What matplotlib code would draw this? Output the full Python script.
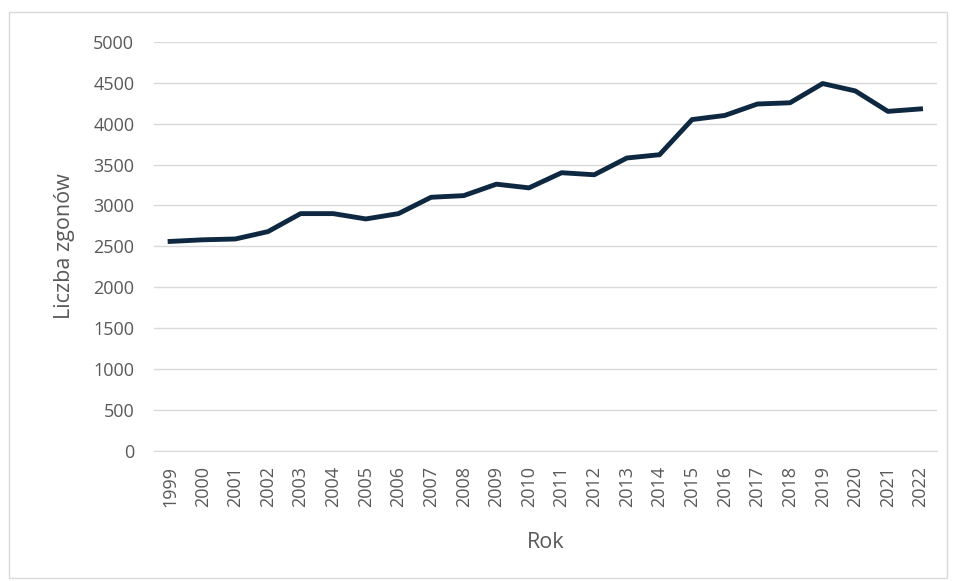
import matplotlib.pyplot as plt
from matplotlib.patches import Rectangle

years = [str(y) for y in range(1999, 2023)]
deaths = [2560, 2580, 2590, 2680, 2900, 2900, 2835, 2900, 3100, 3120, 3260, 3215,
          3400, 3375, 3580, 3620, 4050, 4100, 4240, 4255, 4490, 4400, 4150, 4180]

plt.rcParams["font.family"] = ["Open Sans", "DejaVu Sans"]
text_color = "#595959"
grid_color = "#d9d9d9"

fig = plt.figure(figsize=(9.55, 5.81), dpi=100)
fig.patches.append(Rectangle((0.009, 0.005), 0.983, 0.975, transform=fig.transFigure,
                             fill=False, edgecolor="#d9d9d9", linewidth=1))
ax = fig.add_axes([0.161, 0.224, 0.820, 0.704])

x = range(len(years))
ax.plot(x, deaths, color="#0e2841", linewidth=3.5, solid_joinstyle="round", zorder=3)

ax.set_xlim(-0.5, len(years) - 0.5)
ax.set_ylim(0, 5000)
ax.set_yticks(range(0, 5001, 500))
ax.set_xticks(list(x))
ax.set_xticklabels(years, rotation=90)
ax.grid(axis="y", color=grid_color, linewidth=1)
ax.set_axisbelow(True)
for side in ("top", "right", "left"):
    ax.spines[side].set_visible(False)
ax.spines["bottom"].set_color(grid_color)
ax.tick_params(axis="both", length=0, labelsize=13, colors=text_color)
ax.tick_params(axis="y", pad=14)
ax.tick_params(axis="x", pad=11)

ax.set_xlabel("Rok", fontsize=15.5, color=text_color, labelpad=18)
ax.set_ylabel("Liczba zgonów", fontsize=15.5, color=text_color, labelpad=13)

fig.savefig("out.png", dpi=100)
